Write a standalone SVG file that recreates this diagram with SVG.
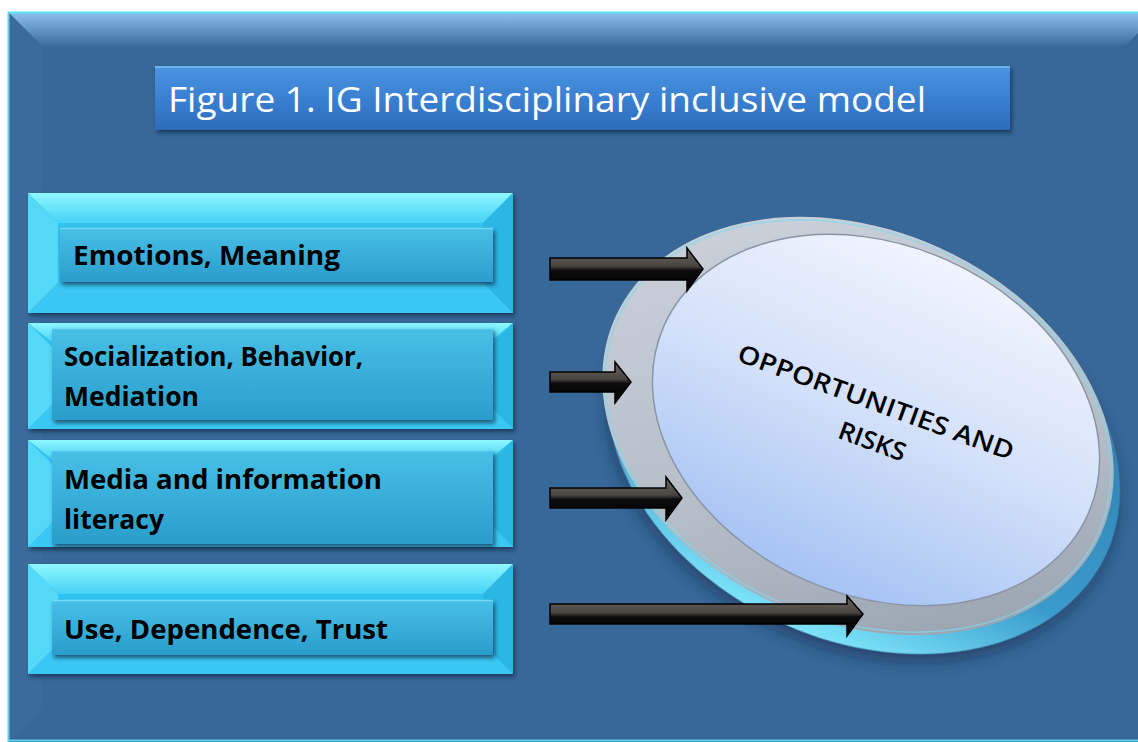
<svg xmlns="http://www.w3.org/2000/svg" width="1138" height="742" viewBox="0 0 1138 742">
<defs>
  <linearGradient id="gTopBevel" x1="0" y1="0" x2="0" y2="1">
    <stop offset="0" stop-color="#8cc2f0"/>
    <stop offset="1" stop-color="#3b6c9c"/>
  </linearGradient>
  <linearGradient id="gTitle" x1="0" y1="0" x2="0" y2="1">
    <stop offset="0" stop-color="#4a95e2"/>
    <stop offset="0.5" stop-color="#3a80d2"/>
    <stop offset="1" stop-color="#2d6bbb"/>
  </linearGradient>
  <linearGradient id="gBoxTop" x1="0" y1="0" x2="0" y2="1">
    <stop offset="0" stop-color="#8ef8ff"/>
    <stop offset="1" stop-color="#46d2f6"/>
  </linearGradient>
  <linearGradient id="gBtn" x1="0" y1="0" x2="0" y2="1">
    <stop offset="0" stop-color="#48c0e6"/>
    <stop offset="1" stop-color="#2a9dcc"/>
  </linearGradient>
  <linearGradient id="gArrow" x1="0" y1="0" x2="0" y2="1">
    <stop offset="0" stop-color="#6a645e"/>
    <stop offset="0.42" stop-color="#4a4642"/>
    <stop offset="0.52" stop-color="#0c0c0c"/>
    <stop offset="1" stop-color="#000000"/>
  </linearGradient>
  <linearGradient id="gDisc" x1="0" y1="0" x2="0" y2="1">
    <stop offset="0" stop-color="#f0f4fd"/>
    <stop offset="0.5" stop-color="#d2e0f9"/>
    <stop offset="1" stop-color="#a6c3f4"/>
  </linearGradient>
  <linearGradient id="gRim" x1="0" y1="0" x2="1" y2="1">
    <stop offset="0" stop-color="#d0d6de"/>
    <stop offset="0.6" stop-color="#b4bcc6"/>
    <stop offset="1" stop-color="#8e9aa8"/>
  </linearGradient>
  <linearGradient id="gBase" x1="0" y1="0" x2="0" y2="1">
    <stop offset="0" stop-color="#2f78aa"/>
    <stop offset="0.7" stop-color="#3a9ccc"/>
    <stop offset="1" stop-color="#7ee4fa"/>
  </linearGradient>
  <filter id="shadow" x="-10%" y="-20%" width="125%" height="150%">
    <feDropShadow dx="2" dy="3" stdDeviation="2" flood-color="#0a2a44" flood-opacity="0.7"/>
  </filter>
  <filter id="softShadow" x="-10%" y="-10%" width="125%" height="130%">
    <feDropShadow dx="2" dy="8" stdDeviation="8" flood-color="#0c2c4c" flood-opacity="0.55"/>
  </filter>
  <style>
    .lbl { font-family: "Open Sans", "Liberation Sans", sans-serif; font-weight: 700; font-size: 26px; fill: #000; }
    .title { font-family: "Open Sans", "Liberation Sans", sans-serif; font-size: 35px; fill: #ffffff; }
    .disc { font-family: "Open Sans", "Liberation Sans", sans-serif; font-weight: 600; font-size: 25px; fill: #000; }
    .face { fill: #30c2ef; }
    .bvL { fill: #54d8f8; }
    .bvR { fill: #2cb6e4; }
    .bvB { fill: #3ac8f2; }
    .btn { fill: url(#gBtn); filter: url(#shadow); }
    .arrow { fill: url(#gArrow); stroke: #000; stroke-width: 1.5; stroke-linejoin: miter; }
  </style>
</defs>

<g id="background">
  <rect x="8" y="12" width="1160" height="740" fill="#386898"/>
  <polygon points="8,12 1160,12 1125,46 42,46" fill="url(#gTopBevel)"/>
  <polygon points="8,12 42,46 42,708 8,742" fill="#3a6b9a"/>
  <line x1="8" y1="12.5" x2="1160" y2="12.5" stroke="#5fe4f4" stroke-width="2"/>
  <line x1="8.5" y1="12" x2="8.5" y2="742" stroke="#6ccbe6" stroke-width="2"/>
  <line x1="8" y1="740.5" x2="1160" y2="740.5" stroke="#5cd2ea" stroke-width="2"/>
</g>

<g id="title">
  <rect x="155" y="66" width="855" height="64" fill="url(#gTitle)" filter="url(#shadow)"/>
  <line x1="155" y1="67" x2="1010" y2="67" stroke="#6cb2f2" stroke-width="2"/>
  <text class="title" x="168" y="112" textLength="758" lengthAdjust="spacingAndGlyphs">Figure 1. IG Interdisciplinary inclusive model</text>
</g>

<g id="node-emotions">
  <g filter="url(#shadow)">
    <rect class="face" x="28" y="193" width="485" height="120"/>
  </g>
  <polygon points="28,193 513,193 483,223 58,223" fill="url(#gBoxTop)"/>
  <polygon class="bvL" points="28,193 58,223 58,283 28,313"/>
  <polygon class="bvR" points="513,193 483,223 483,283 513,313"/>
  <polygon class="bvB" points="28,313 58,283 483,283 513,313"/>
  <rect class="btn" x="60" y="228" width="433" height="54"/>
  <line x1="60" y1="228.5" x2="493" y2="228.5" stroke="#70daf6" stroke-width="1.5"/>
  <text class="lbl" x="73" y="265" textLength="267" lengthAdjust="spacingAndGlyphs">Emotions, Meaning</text>
</g>

<g id="node-socialization">
  <g filter="url(#shadow)">
    <rect class="face" x="28" y="323" width="485" height="106"/>
  </g>
  <polygon points="28,323 513,323 488,343 53,343" fill="url(#gBoxTop)"/>
  <polygon class="bvL" points="28,323 53,348 53,404 28,429"/>
  <polygon class="bvR" points="513,323 488,348 488,404 513,429"/>
  <polygon class="bvB" points="28,429 53,404 488,404 513,429"/>
  <rect class="btn" x="52" y="328" width="441" height="92"/>
  <line x1="52" y1="328.5" x2="493" y2="328.5" stroke="#70daf6" stroke-width="1.5"/>
  <text class="lbl" x="64" y="366" textLength="299" lengthAdjust="spacingAndGlyphs">Socialization, Behavior,</text>
  <text class="lbl" x="64" y="406" textLength="135" lengthAdjust="spacingAndGlyphs">Mediation</text>
</g>

<g id="node-media">
  <g filter="url(#shadow)">
    <rect class="face" x="28" y="440" width="485" height="107"/>
  </g>
  <polygon points="28,440 513,440 488,460 53,460" fill="url(#gBoxTop)"/>
  <polygon class="bvL" points="28,440 53,465 53,522 28,547"/>
  <polygon class="bvR" points="513,440 488,465 488,522 513,547"/>
  <polygon class="bvB" points="28,547 53,522 488,522 513,547"/>
  <rect class="btn" x="52" y="450" width="441" height="94"/>
  <line x1="52" y1="450.5" x2="493" y2="450.5" stroke="#70daf6" stroke-width="1.5"/>
  <text class="lbl" x="64" y="489" textLength="318" lengthAdjust="spacingAndGlyphs">Media and information</text>
  <text class="lbl" x="64" y="529" textLength="100" lengthAdjust="spacingAndGlyphs">literacy</text>
</g>

<g id="node-use">
  <g filter="url(#shadow)">
    <rect class="face" x="28" y="564" width="485" height="110"/>
  </g>
  <polygon points="28,564 513,564 483,594 58,594" fill="url(#gBoxTop)"/>
  <polygon class="bvL" points="28,564 58,594 58,644 28,674"/>
  <polygon class="bvR" points="513,564 483,594 483,644 513,674"/>
  <polygon class="bvB" points="28,674 58,644 483,644 513,674"/>
  <rect class="btn" x="52" y="600" width="441" height="55"/>
  <line x1="52" y1="600.5" x2="493" y2="600.5" stroke="#70daf6" stroke-width="1.5"/>
  <text class="lbl" x="64" y="639" textLength="324" lengthAdjust="spacingAndGlyphs">Use, Dependence, Trust</text>
</g>

<g id="node-opportunities">
  <ellipse cx="864" cy="444" rx="266" ry="197" transform="rotate(24 864 444)" fill="url(#gBase)" filter="url(#softShadow)"/>
  <ellipse cx="858" cy="426" rx="266" ry="196" transform="rotate(24 858 426)" fill="url(#gRim)"/>
  <ellipse cx="858" cy="426" rx="263" ry="193" transform="rotate(24 858 426)" fill="none" stroke="#7fd8ee" stroke-width="1.5" opacity="0.7"/>
  <ellipse cx="876" cy="420" rx="232" ry="175" transform="rotate(24 876 420)" fill="url(#gDisc)" stroke="#8a96a6" stroke-width="1.5"/>
  <g transform="rotate(20 876 402)">
    <text class="disc" x="876" y="411" text-anchor="middle" textLength="292" lengthAdjust="spacingAndGlyphs">OPPORTUNITIES AND</text>
    <text class="disc" x="886" y="449" text-anchor="middle" textLength="70" lengthAdjust="spacingAndGlyphs">RISKS</text>
  </g>
</g>

<g id="connectors">
  <polygon class="arrow" points="550,258 687,258 687,248 703,269 687,291 687,280 550,280"/>
  <polygon class="arrow" points="550,372 615,372 615,362 631,382 615,403 615,392 550,392"/>
  <polygon class="arrow" points="550,488 666,488 666,477 682,498 666,520 666,508 550,508"/>
  <polygon class="arrow" points="550,604 847,604 847,596 863,614 847,636 847,624 550,624"/>
</g>
</svg>
